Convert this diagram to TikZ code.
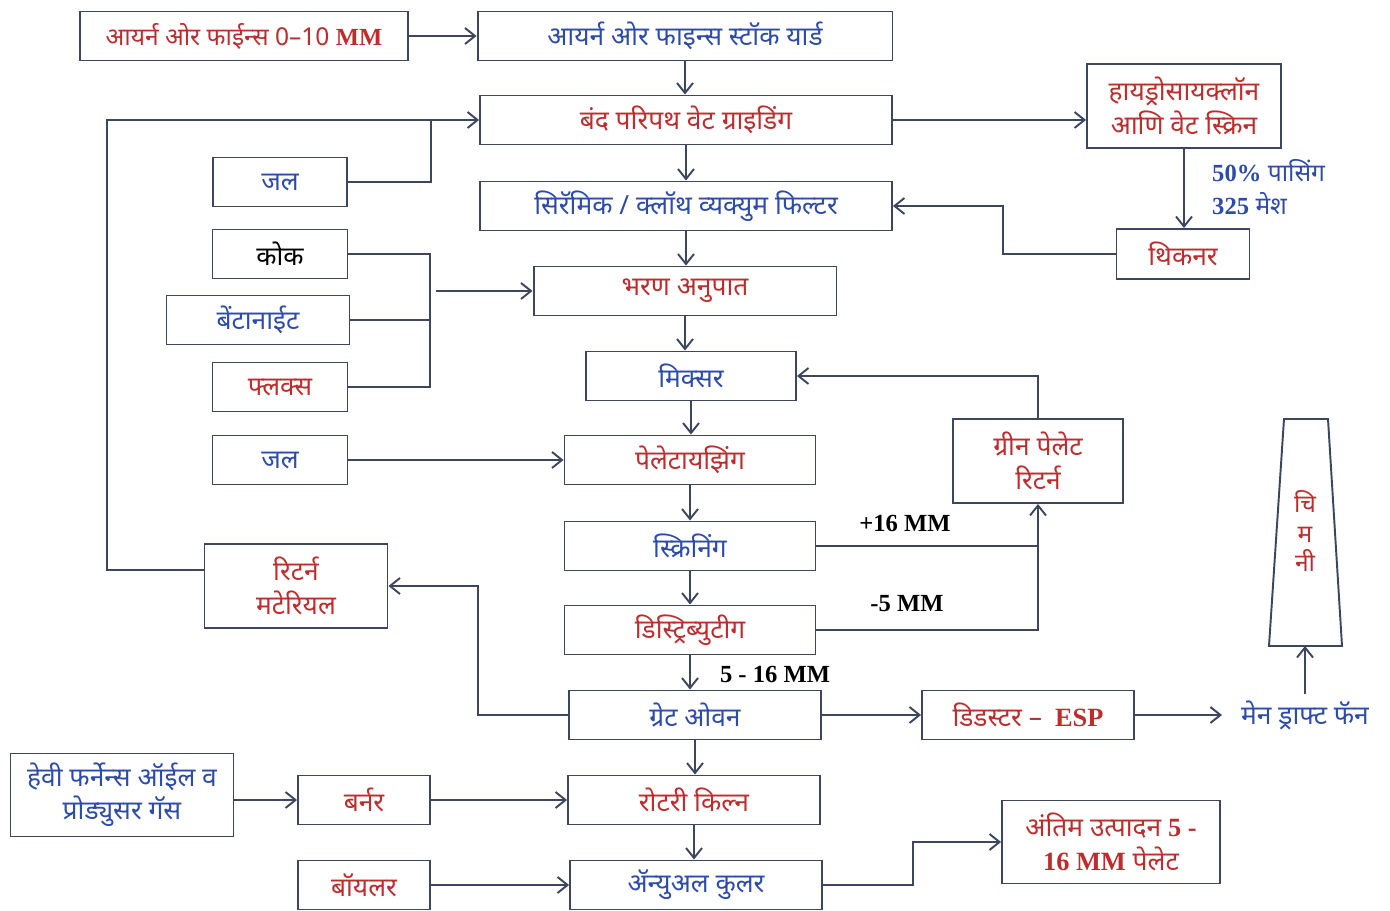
\documentclass[tikz,border=0pt]{standalone}
\usepackage{fontspec}
\setmainfont{Noto Sans}[Script=Devanagari]
\newfontfamily\latfont{Liberation Serif}
\usetikzlibrary{arrows.meta,calc}
\definecolor{txtred}{RGB}{190,45,45}
\definecolor{txtblue}{RGB}{45,75,170}
\definecolor{edge}{RGB}{60,70,95}
\newcommand{\lat}[1]{{\latfont\bfseries #1}}
\tikzset{
  box/.style={rectangle, draw=edge, line width=1.1pt, inner sep=2pt, align=center, minimum height=0.98cm, font=\fontsize{15}{19}\selectfont},
  tall/.style={box, minimum height=1.68cm},
  rtxt/.style={text=txtred},
  btxt/.style={text=txtblue},
  flow/.style={draw=edge, line width=1.1pt, -{Straight Barb[length=2mm,width=3.2mm]}},
  link/.style={draw=edge, line width=1.1pt},
  size/.style={font=\latfont\bfseries\fontsize{14}{16}\selectfont, text=black}
}

\begin{document}
\begin{tikzpicture}[x=0.02cm, y=-0.02cm]
  \useasboundingbox (0,0) rectangle (1390,911);

  % Main line (centre column)
  \node[box, rtxt, minimum width=6.56cm, font=\fontsize{14}{19}\selectfont] (ore) at (244,36) {आयर्न ओर फाईन्स 0–10 \lat{MM}};
  \node[box, btxt, minimum width=8.3cm] (yard) at (685,36) {आयर्न ओर फाइन्स स्टॉक यार्ड};
  \node[box, rtxt, minimum width=8.24cm] (grind) at (686,120) {बंद परिपथ वेट ग्राइडिंग};
  \node[box, btxt, minimum width=8.24cm] (filter) at (686,206) {सिरॅमिक / क्लॉथ व्यक्युम फिल्टर};
  \node[box, rtxt, minimum width=6.06cm] (ratio) at (685,291) {भरण अनुपात};
  \node[box, btxt, minimum width=4.2cm] (mixer) at (691,376) {मिक्सर};
  \node[box, rtxt, minimum width=5.02cm] (pelle) at (690,460) {पेलेटायझिंग};
  \node[box, btxt, minimum width=5.02cm] (screen) at (690,546) {स्क्रिनिंग};
  \node[box, rtxt, minimum width=5.02cm] (distr) at (690,630) {डिस्ट्रिब्युटीग};
  \node[box, btxt, minimum width=5.04cm] (grate) at (695,715) {ग्रेट ओवन};
  \node[box, rtxt, minimum width=5.04cm] (kiln) at (694,800) {रोटरी किल्न};
  \node[box, btxt, minimum width=5.04cm] (cooler) at (696,885) {ॲन्युअल कुलर};

  % Water circuit (right)
  \node[tall, rtxt, minimum width=3.88cm] (hydro) at (1184,106) {हायड्रोसायक्लॉन\\आणि वेट स्क्रिन};
  \node[box, rtxt, minimum width=2.66cm, minimum height=1cm] (thick) at (1183,254) {थिकनर};
  \node[btxt, align=left, anchor=west, font=\bfseries\fontsize{14}{19}\selectfont] (pass) at (1206,187) {\lat{50\%} पासिंग\\\lat{325} मेश};

  % Additives (left)
  \node[box, btxt, minimum width=2.68cm] (jal1) at (280,182) {जल};
  \node[box, minimum width=2.7cm] (coke) at (280,254) {कोक};
  \node[box, btxt, minimum width=3.66cm] (bento) at (258,320) {बेंटानाईट};
  \node[box, rtxt, minimum width=2.7cm] (flux) at (280,387) {फ्लक्स};
  \node[box, btxt, minimum width=2.7cm] (jal2) at (280,460) {जल};
  \node[tall, rtxt, minimum width=3.66cm] (retmat) at (296,586) {रिटर्न\\मटेरियल};

  % Returns and gas side
  \node[tall, rtxt, minimum width=3.4cm] (gpr) at (1038,461) {ग्रीन पेलेट\\रिटर्न};
  \node[box, rtxt, minimum width=4.24cm] (dedust) at (1028,715) {डिडस्टर –\enspace\lat{ESP}};
  \node[btxt, font=\fontsize{15}{17}\selectfont] (fan) at (1305,715) {मेन ड्राफ्ट फॅन};
  \draw[link] (1284,419) -- (1328,419) -- (1342,646) -- (1269,646) -- cycle;
  \node[rtxt, align=center, font=\fontsize{14}{17}\selectfont] (chim) at (1305,531) {चि\\म\\नी};
  \coordinate (chimb) at (1305,646);

  % Fuel side (bottom)
  \node[tall, btxt, minimum width=4.46cm, minimum height=1.66cm] (hfo) at (122,795) {हेवी फर्नेन्स ऑईल व\\प्रोड्युसर गॅस};
  \node[box, rtxt, minimum width=2.64cm] (burner) at (364,800) {बर्नर};
  \node[box, rtxt, minimum width=2.64cm] (boiler) at (364,885) {बॉयलर};
  \node[tall, rtxt, minimum width=4.36cm, minimum height=1.66cm] (final) at (1111,842) {अंतिम उत्पादन \lat{5 -}\\\lat{16 MM} पेलेट};

  % Size labels
  \node[size] (plus) at (905,523) {+16 MM};
  \node[size] (minus) at (907,604) {-5 MM};
  \node[size] (good) at (775,674) {5 - 16 MM};

  % Straight down the centre column
  \foreach \a/\b in {yard/grind, grind/filter, filter/ratio, ratio/mixer, mixer/pelle,
                     pelle/screen, screen/distr, distr/grate, grate/kiln, kiln/cooler, hydro/thick}{
    \draw[flow] (\a.south) -- (\a.south |- \b.north);
  }

  % Straight feeds
  \draw[flow] (ore) -- (yard);
  \draw[flow] (grind) -- (hydro.west |- grind);
  \draw[flow] (jal2) -- (pelle);
  \draw[flow] (grate) -- (dedust);
  \draw[flow, shorten >=0.26cm] (dedust) -- (fan);
  \draw[flow] (fan.north) -- (chimb);
  \draw[flow] (hfo.east |- burner) -- (burner);
  \draw[flow] (burner) -- (kiln);
  \draw[flow] (boiler) -- (cooler);

  % Return loops
  \draw[flow] ($(retmat.west)+(0,-16)$) -- ++(-97,0) |- (grind.west);
  \coordinate (j1) at (431,120);
  \draw[link] (jal1.east) -| (j1);
  \draw[flow] (thick.west) -- ++(-113,0) |- (filter.east);
  \draw[flow] (gpr.north) |- (mixer.east);
  \draw[link] (screen.east) -- (screen.east -| gpr.south);
  \draw[flow] (distr.east) -| (gpr.south);
  \draw[flow] (grate.west) -- ++(-90,0) |- (retmat.east);
  \draw[flow] (cooler.east) -- ++(90,0) |- (final.west);

  % Additive bus
  \coordinate (fbus) at (430,387);
  \coordinate (busout) at (436,291);
  \draw[link] (coke.east) -| (fbus) -- (flux.east);
  \draw[link] (bento.east) -- (bento.east -| fbus);
  \draw[flow] (busout) -- (ratio.west);
\end{tikzpicture}
\end{document}
